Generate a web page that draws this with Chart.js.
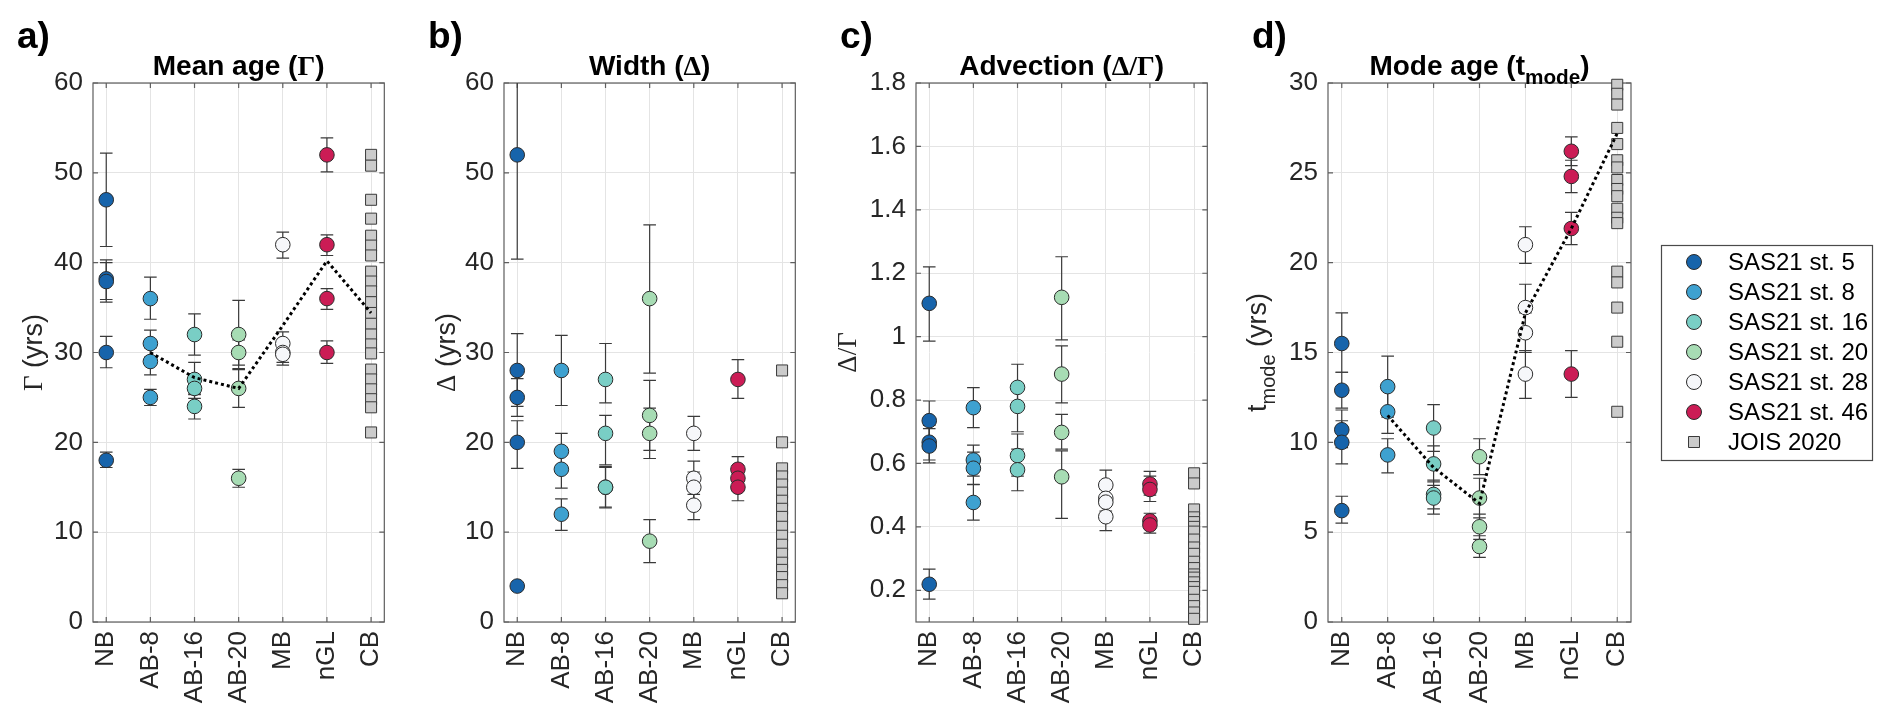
<!DOCTYPE html>
<html>
<head>
<meta charset="utf-8">
<script src="https://cdn.jsdelivr.net/npm/chart.js@4.4.1/dist/chart.umd.min.js"></script>
<style>
  html, body { margin: 0; padding: 0; background: #ffffff; }
  #wrap { position: relative; width: 1892px; height: 725px; overflow: hidden; background: #fff; }
  canvas { position: absolute; top: 0; }
</style>
</head>
<body>
<div id="wrap">
  <canvas id="cA"></canvas>
  <canvas id="cB"></canvas>
  <canvas id="cC"></canvas>
  <canvas id="cD"></canvas>
</div>
<script>
// ---------------- DATA ----------------
const categories = ['NB', 'AB-8', 'AB-16', 'AB-20', 'MB', 'nGL', 'CB'];
const stationNames = ['SAS21 st. 5', 'SAS21 st. 8', 'SAS21 st. 16', 'SAS21 st. 20', 'SAS21 st. 28', 'SAS21 st. 46'];
const stationCategory = [0, 1, 2, 3, 4, 5];
const joisName = 'JOIS 2020';
const joisCategory = 6;

// a) Mean age (Gamma), yrs — per station: values, lower and upper error limits
const gammaValues = [[47, 38.2, 37.9, 30, 18], [36, 31, 29, 25], [32, 27, 26, 24], [32, 30, 26, 16], [42, 31, 30, 29.8], [52, 42, 36, 30]];
const gammaLow    = [[41.8, 35.9, 35.6, 28.3, 17.2], [33.7, 29.5, 27.5, 24.1], [29.7, 25.3, 24.9, 22.6], [28.2, 28.6, 23.9, 15.0], [40.5, 29.9, 28.9, 28.6], [50.1, 40.8, 34.8, 28.8]];
const gammaHigh   = [[52.2, 40.3, 40.0, 31.8, 18.9], [38.4, 32.5, 30.5, 25.9], [34.3, 28.9, 27.1, 25.4], [35.8, 31.4, 28.1, 17.0], [43.4, 32.3, 31.2, 31.2], [53.9, 43.1, 37.1, 31.3]];
const gammaJOIS   = [52.0, 50.8, 47.0, 44.9, 43.0, 41.9, 40.8, 39.0, 37.9, 36.8, 35.6, 34.4, 33.2, 32.0, 30.9, 29.9, 28.1, 27.0, 25.9, 24.8, 23.9, 21.1];
const gammaTrend  = [null, 30.0, 27.2, 26.0, 33.0, 40.2, 34.4];
const gammaTicks  = [0, 10, 20, 30, 40, 50, 60];

// b) Width (Delta), yrs
const widthValues = [[52, 28, 25, 20, 4], [28, 19, 17, 12], [27, 21, 15, 15], [36, 23, 21, 9], [21, 16, 15, 13], [27, 17, 16, 15]];
const widthLow    = [[40.4, 24.0, 22.9, 17.1, 4], [24.1, 17.0, 14.9, 10.2], [24.4, 17.5, 12.8, 12.7], [27.7, 19.1, 18.2, 6.6], [19.1, 14.2, 13.3, 11.4], [24.9, 15.8, 14.6, 13.5]];
const widthHigh   = [[63.6, 32.1, 27.1, 22.4, 4], [31.9, 21.0, 19.1, 13.7], [31.0, 23.0, 17.3, 17.2], [44.2, 26.9, 23.8, 11.4], [22.9, 17.9, 16.7, 14.6], [29.2, 18.4, 17.4, 16.5]];
const widthJOIS   = [28.0, 20.0, 17.1, 16.2, 15.3, 14.4, 13.5, 12.6, 11.7, 10.6, 9.6, 8.6, 7.6, 6.6, 5.8, 5.0, 4.1, 3.2];
const widthTicks  = [0, 10, 20, 30, 40, 50, 60];

// c) Advection (Delta/Gamma)
const advValues = [[1.105, 0.735, 0.667, 0.655, 0.219], [0.776, 0.611, 0.585, 0.477], [0.84, 0.78, 0.625, 0.58], [1.124, 0.882, 0.698, 0.558], [0.532, 0.49, 0.478, 0.432], [0.535, 0.518, 0.419, 0.406]];
const advLow    = [[0.986, 0.675, 0.611, 0.602, 0.172], [0.713, 0.56, 0.534, 0.421], [0.77, 0.70, 0.56, 0.514], [0.99, 0.791, 0.645, 0.427], [0.49, 0.45, 0.44, 0.388], [0.50, 0.48, 0.40, 0.38]];
const advHigh   = [[1.22, 0.797, 0.72, 0.71, 0.267], [0.839, 0.658, 0.636, 0.533], [0.913, 0.85, 0.693, 0.645], [1.252, 0.971, 0.755, 0.64], [0.579, 0.53, 0.52, 0.475], [0.575, 0.56, 0.443, 0.43]];
const advJOIS   = [0.569, 0.537, 0.455, 0.43, 0.415, 0.40, 0.385, 0.36, 0.335, 0.315, 0.29, 0.27, 0.25, 0.24, 0.225, 0.21, 0.195, 0.17, 0.15, 0.13, 0.11];
const advTicks  = [0.2, 0.4, 0.6, 0.8, 1.0, 1.2, 1.4, 1.6, 1.8];

// d) Mode age (t_mode), yrs
const modeValues = [[15.5, 12.9, 10.7, 10.0, 6.2], [13.1, 11.7, 9.3], [10.8, 8.8, 7.1, 6.9], [9.2, 6.9, 5.3, 4.2], [21.0, 17.5, 16.1, 13.8], [26.2, 24.8, 21.9, 13.8]];
const modeLow    = [[13.9, 11.9, 9.7, 8.8, 5.5], [11.4, 10.5, 8.3], [9.5, 7.8, 6.3, 6.0], [8.2, 5.8, 4.6, 3.6], [19.96, 16.3, 15.0, 12.45], [25.4, 23.9, 21.0, 12.5]];
const modeHigh   = [[17.2, 13.9, 11.8, 11.2, 7.0], [14.8, 12.9, 10.2], [12.1, 9.8, 7.9, 7.6], [10.2, 8.0, 6.0, 4.8], [22.0, 18.8, 17.2, 15.1], [27.0, 25.7, 22.8, 15.1]];
const modeJOIS   = [29.9, 29.4, 28.8, 27.5, 26.6, 25.7, 25.3, 24.6, 24.1, 23.7, 23.0, 22.5, 22.2, 19.5, 18.9, 17.5, 15.6, 11.7];
const modeTrend  = [null, 11.5, 8.6, 6.6, 17.2, 21.9, 27.2];
const modeTicks  = [0, 5, 10, 15, 20, 25, 30];

// ---------------- STYLE ----------------
const SANS = "'Liberation Sans', Arial, Helvetica, sans-serif";
const SERIF = "'Liberation Serif', 'Times New Roman', serif";
const INK = '#262626';
const GRID = '#e4e4e4';
const BOX = '#5e5e5e';
const ERR = '#3a3a3a';
const stationColors = ['#1764ab', '#3ea1d0', '#79cec5', '#a7dcb4', '#f6f7fa', '#cb1c55'];
const joisColor = '#cbcbcb';

const PLOT_TOP = 83, PLOT_BOTTOM = 622, CANVAS_H = 725, YAXIS_W = 93, PLOT_W = 303;

// ---------------- PLUGINS ----------------
function drawRich(ctx, segs, x, y, size, weight, align) {
  const parts = segs.map(s => {
    const fs = s.sub ? size * 0.74 : size;
    const fam = s.serif ? SERIF : SANS;
    const font = `${weight} ${fs}px ${fam}`;
    ctx.font = font;
    return { t: s.t, font, w: ctx.measureText(s.t).width, dy: s.sub ? size * 0.32 : 0 };
  });
  const total = parts.reduce((a, p) => a + p.w, 0);
  let cx = align === 'center' ? x - total / 2 : x;
  ctx.textAlign = 'left';
  ctx.textBaseline = 'alphabetic';
  for (const p of parts) { ctx.font = p.font; ctx.fillText(p.t, cx, y + p.dy); cx += p.w; }
}

const panelDeco = {
  id: 'panelDeco',
  beforeDatasetsDraw(chart, args, opts) {
    const { ctx, chartArea: a, scales } = chart;
    ctx.save();
    ctx.strokeStyle = BOX;
    ctx.lineWidth = 1.2;
    ctx.strokeRect(a.left, a.top, a.right - a.left, a.bottom - a.top);
    const tl = 5;
    ctx.beginPath();
    scales.x.ticks.forEach(t => {
      const px = scales.x.getPixelForValue(t.value);
      ctx.moveTo(px, a.bottom); ctx.lineTo(px, a.bottom - tl);
      ctx.moveTo(px, a.top); ctx.lineTo(px, a.top + tl);
    });
    scales.y.ticks.forEach(t => {
      const py = scales.y.getPixelForValue(t.value);
      ctx.moveTo(a.left, py); ctx.lineTo(a.left + tl, py);
      ctx.moveTo(a.right, py); ctx.lineTo(a.right - tl, py);
    });
    ctx.stroke();
    ctx.restore();
  },
  afterDraw(chart, args, opts) {
    const { ctx, chartArea: a } = chart;
    ctx.save();
    ctx.fillStyle = '#000';
    // panel letter
    ctx.font = `bold 37px ${SANS}`;
    ctx.textAlign = 'left';
    ctx.textBaseline = 'alphabetic';
    ctx.fillText(opts.letter, a.left - 76, 48);
    // title
    drawRich(ctx, opts.title, (a.left + a.right) / 2, 75, 28, 'bold', 'center');
    // y label (rotated)
    ctx.fillStyle = INK;
    ctx.translate(a.left + opts.ylabelDx, (a.top + a.bottom) / 2);
    ctx.rotate(-Math.PI / 2);
    drawRich(ctx, opts.ylabel, 0, 26 * 0.36, 27, 'normal', 'center');
    ctx.restore();
  }
};

const errorBars = {
  id: 'errorBars',
  beforeDatasetDraw(chart, args) {
    const ds = chart.data.datasets[args.index];
    if (!ds.errorBars) return;
    const { ctx, chartArea: a, scales: { x, y } } = chart;
    ctx.save();
    ctx.beginPath();
    ctx.rect(a.left, a.top, a.right - a.left, a.bottom - a.top);
    ctx.clip();
    ctx.strokeStyle = ERR;
    ctx.lineWidth = 1.2;
    const cap = 6.3;
    ds.data.forEach(p => {
      if (p.yMin == null || p.yMax == null || p.yMin === p.yMax) return;
      const px = x.getPixelForValue(p.x);
      const y0 = y.getPixelForValue(p.yMin), y1 = y.getPixelForValue(p.yMax);
      ctx.beginPath();
      ctx.moveTo(px, y0); ctx.lineTo(px, y1);
      ctx.moveTo(px - cap, y0); ctx.lineTo(px + cap, y0);
      ctx.moveTo(px - cap, y1); ctx.lineTo(px + cap, y1);
      ctx.stroke();
    });
    ctx.restore();
  }
};

const boxLegend = {
  id: 'boxLegend',
  afterDraw(chart, args, opts) {
    if (!opts || !opts.show) return;
    const { ctx } = chart;
    const x0 = opts.left, y0 = opts.top, w = opts.width, h = opts.height;
    ctx.save();
    ctx.fillStyle = '#fff';
    ctx.fillRect(x0, y0, w, h);
    ctx.strokeStyle = '#4a4a4a';
    ctx.lineWidth = 1.2;
    ctx.strokeRect(x0 + 0.5, y0 + 0.5, w, h);
    const items = chart.data.datasets.filter(d => d.inLegend);
    items.forEach((d, i) => {
      const cy = y0 + opts.firstY + i * opts.rowH;
      const mx = x0 + opts.markerX;
      ctx.fillStyle = d.backgroundColor;
      ctx.strokeStyle = d.borderColor;
      ctx.lineWidth = 1;
      ctx.beginPath();
      if (d.pointStyle === 'rect') {
        const s = 5.5;
        ctx.rect(mx - s, cy - s, 2 * s, 2 * s);
      } else {
        ctx.arc(mx, cy, 7.5, 0, Math.PI * 2);
      }
      ctx.fill(); ctx.stroke();
      ctx.fillStyle = '#000';
      ctx.font = `24px ${SANS}`;
      ctx.textAlign = 'left';
      ctx.textBaseline = 'middle';
      ctx.fillText(d.label, x0 + opts.textX, cy + 1);
    });
    ctx.restore();
  }
};

// ---------------- BUILD ----------------
function fmtTick(v) { return String(Number(v.toFixed(2))); }

function buildDatasets(vals, lows, highs, jois, trend) {
  const ds = [];
  vals.forEach((arr, s) => {
    ds.push({
      label: stationNames[s],
      inLegend: true,
      errorBars: true,
      data: arr.map((v, k) => ({ x: stationCategory[s], y: v, yMin: lows[s][k], yMax: highs[s][k] })),
      backgroundColor: stationColors[s],
      borderColor: '#2b2b2b',
      borderWidth: 1,
      pointStyle: 'circle',
      pointRadius: 7.3,
      pointHoverRadius: 7.3,
      showLine: false,
      clip: false,
      order: 20 - s
    });
  });
  ds.push({
    label: joisName,
    inLegend: true,
    data: jois.map(v => ({ x: joisCategory, y: v })),
    backgroundColor: joisColor,
    borderColor: '#3a3a3a',
    borderWidth: 1,
    pointStyle: 'rect',
    pointRadius: 7.8,
    pointHoverRadius: 7.8,
    showLine: false,
    clip: false,
    order: 5
  });
  if (trend) {
    ds.push({
      type: 'line',
      label: 'trend',
      inLegend: false,
      data: trend.map((v, i) => (v == null ? null : { x: i, y: v })).filter(p => p),
      borderColor: '#000',
      borderWidth: 3,
      borderDash: [3, 3],
      pointRadius: 0,
      fill: false,
      tension: 0,
      order: 0
    });
  }
  return ds;
}

function makeChart(id, left, width, padRight, cfg) {
  const cv = document.getElementById(id);
  cv.width = width; cv.height = CANVAS_H;
  cv.style.left = left + 'px';
  cv.style.width = width + 'px'; cv.style.height = CANVAS_H + 'px';
  return new Chart(cv, {
    type: 'scatter',
    data: { datasets: buildDatasets(cfg.vals, cfg.lows, cfg.highs, cfg.jois, cfg.trend) },
    options: {
      responsive: false,
      animation: false,
      devicePixelRatio: 1,
      events: [],
      layout: { padding: { top: PLOT_TOP, left: 0, right: padRight, bottom: 0 } },
      scales: {
        x: {
          type: 'linear', min: -0.3, max: 6.3,
          afterBuildTicks: s => { s.ticks = categories.map((c, i) => ({ value: i })); },
          afterFit: s => { s.height = CANVAS_H - PLOT_BOTTOM; },
          ticks: {
            autoSkip: false, minRotation: 90, maxRotation: 90, padding: 9,
            color: INK, font: { family: SANS, size: 26 },
            callback: v => categories[v]
          },
          grid: { color: GRID, lineWidth: 1, drawTicks: false },
          border: { display: false }
        },
        y: {
          type: 'linear', min: cfg.min, max: cfg.max,
          afterBuildTicks: s => { s.ticks = cfg.ticks.map(v => ({ value: v })); },
          afterFit: s => { s.width = YAXIS_W; },
          ticks: { padding: 10, color: INK, font: { family: SANS, size: 26 }, callback: v => fmtTick(v) },
          grid: { color: GRID, lineWidth: 1, drawTicks: false },
          border: { display: false }
        }
      },
      plugins: {
        legend: { display: false },
        tooltip: { enabled: false },
        panelDeco: { letter: cfg.letter, title: cfg.title, ylabel: cfg.ylabel, ylabelDx: cfg.ylabelDx },
        boxLegend: cfg.legend || { show: false }
      }
    },
    plugins: [panelDeco, errorBars, boxLegend]
  });
}

const PL = [93, 504, 916, 1328];

makeChart('cA', PL[0] - YAXIS_W, YAXIS_W + PLOT_W + 16, 16, {
  vals: gammaValues, lows: gammaLow, highs: gammaHigh, jois: gammaJOIS, trend: gammaTrend,
  min: 0, max: 60, ticks: gammaTicks, letter: 'a)',
  title: [{ t: 'Mean age (' }, { t: 'Γ', serif: true }, { t: ')' }],
  ylabel: [{ t: 'Γ', serif: true }, { t: ' (yrs)' }], ylabelDx: -60
});
makeChart('cB', PL[1] - YAXIS_W, YAXIS_W + PLOT_W + 16, 16, {
  vals: widthValues, lows: widthLow, highs: widthHigh, jois: widthJOIS, trend: null,
  min: 0, max: 60, ticks: widthTicks, letter: 'b)',
  title: [{ t: 'Width (' }, { t: 'Δ', serif: true }, { t: ')' }],
  ylabel: [{ t: 'Δ', serif: true }, { t: ' (yrs)' }], ylabelDx: -58
});
makeChart('cC', PL[2] - YAXIS_W, YAXIS_W + PLOT_W + 16, 16, {
  vals: advValues, lows: advLow, highs: advHigh, jois: advJOIS, trend: null,
  min: 0.1, max: 1.8, ticks: advTicks, letter: 'c)',
  title: [{ t: 'Advection (' }, { t: 'Δ/Γ', serif: true }, { t: ')' }],
  ylabel: [{ t: 'Δ/Γ', serif: true }], ylabelDx: -69
});
const dLeft = PL[3] - YAXIS_W;
const dWidth = 1892 - dLeft;
makeChart('cD', dLeft, dWidth, dWidth - YAXIS_W - PLOT_W, {
  vals: modeValues, lows: modeLow, highs: modeHigh, jois: modeJOIS, trend: modeTrend,
  min: 0, max: 30, ticks: modeTicks, letter: 'd)',
  title: [{ t: 'Mode age (t' }, { t: 'mode', sub: true }, { t: ')' }],
  ylabel: [{ t: 't' }, { t: 'mode', sub: true }, { t: ' (yrs)' }], ylabelDx: -71,
  legend: { show: true, left: 1661 - dLeft, top: 245, width: 211, height: 215, firstY: 17, rowH: 30, markerX: 33, textX: 67 }
});
</script>
</body>
</html>
